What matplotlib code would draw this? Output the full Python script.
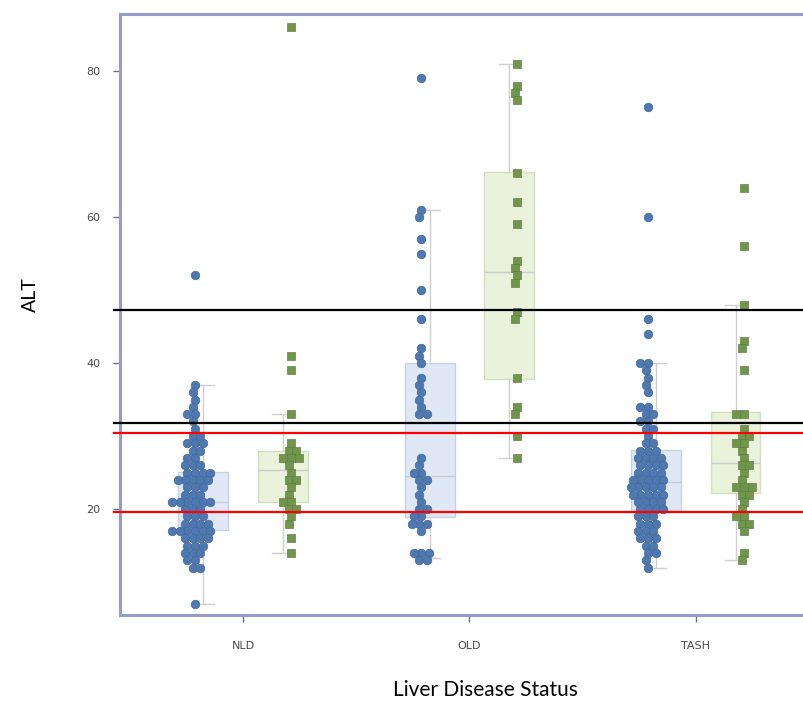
import numpy as np
import matplotlib
matplotlib.use("Agg")
import matplotlib.pyplot as plt

# ---------------- data ----------------
categories = ["NLD", "OLD", "TASH"]
ytick_values = [20, 40, 60, 80]

# group A (blue circles) values per category
blue_nld = ([52, 37, 36, 35, 34] + [33] * 2 + [32, 31] + [30] * 2 + [29] * 3 + [28] * 2 + [27] * 2
            + [26] * 3 + [25] * 4 + [24] * 5 + [23] * 3 + [22] * 3 + [21] * 6 + [20] * 3 + [19] * 3
            + [18] * 4 + [17] * 6 + [16] * 4 + [15] * 3 + [14] * 3 + [13] * 2 + [12] * 2 + [7])
blue_old = [79, 61, 60, 57, 55, 50, 46, 42, 41, 40, 38, 37, 36, 35, 34, 33, 33,
            27, 26, 25, 25, 24, 24, 23, 22, 21, 20, 20, 19, 19, 18, 18, 18, 17,
            14, 14, 14, 13, 13]
blue_tash = ([75, 60, 46, 44] + [40] * 2 + [39, 38, 37, 36] + [34] * 2 + [33] * 2 + [32] * 2
             + [31] * 2 + [30] + [29] * 2 + [28] * 3 + [27] * 4 + [26] * 4 + [25] * 4 + [24] * 5
             + [23] * 5 + [22] * 5 + [21] * 4 + [20] * 4 + [19] * 3 + [18] * 3 + [17] * 3
             + [16] * 3 + [15] * 2 + [14] * 2 + [13, 12])

# group B (green squares) values per category
green_nld = [86, 41, 39, 33, 29, 28, 28, 27, 27, 27, 26, 25, 24, 24, 23, 22, 21, 21,
             20, 20, 19, 18, 16, 14]
green_old = [81, 78, 77, 76, 66, 62, 59, 54, 53, 52, 51, 47, 46, 38, 34, 33, 30, 27]
green_tash = [64, 56, 48, 43, 42, 39, 33, 33, 31, 30, 30, 29, 29, 28, 27, 26, 26, 25,
              24, 23, 23, 23, 22, 22, 21, 20, 19, 19, 18, 18, 17, 14, 13]

# box statistics (NLD, OLD, TASH)
blue_q1 = [17.1, 18.9, 19.9]
blue_med = [21.0, 24.5, 23.7]
blue_q3 = [25.1, 40.0, 28.1]
blue_lo = [7.0, 13.3, 12.0]
blue_hi = [37.0, 61.0, 40.0]

green_q1 = [21.0, 37.8, 22.2]
green_med = [25.3, 52.5, 26.3]
green_q3 = [28.0, 66.2, 33.3]
green_lo = [14.0, 27.0, 13.0]
green_hi = [33.0, 81.0, 48.0]

# reference lines
black_lines = [47.2, 31.8]
red_lines = [30.45, 19.55]

# ---------------- figure ----------------
fig = plt.figure(figsize=(8.04, 7.11), dpi=100)
ax = fig.add_axes([120 / 804, 1 - 615 / 711, (830 - 120) / 804, (615 - 14) / 711])
ax.set_xlim(-0.543, 2.592)
ax.set_ylim(5.5, 87.8)

frame_col = "#959bcb"
for side in ["left", "top", "bottom", "right"]:
    ax.spines[side].set_color(frame_col)
    ax.spines[side].set_linewidth(2.2)

# ---- boxes ----
box_off = 0.175
box_w = 0.22


def make_stats(q1, med, q3, lo, hi):
    return [dict(q1=a, med=b, q3=c, whislo=d, whishi=e, fliers=[]) for a, b, c, d, e in zip(q1, med, q3, lo, hi)]


pos = np.arange(len(categories))
for stats, shift, fc, ec in [
    (make_stats(blue_q1, blue_med, blue_q3, blue_lo, blue_hi), -box_off, "#dfe8f4", "#c4d2e6"),
    (make_stats(green_q1, green_med, green_q3, green_lo, green_hi), box_off, "#eaf2dc", "#d2e1bb"),
]:
    ax.bxp(stats, positions=pos + shift, widths=box_w, patch_artist=True, showfliers=False,
           manage_ticks=False, capwidths=0.09,
           boxprops=dict(facecolor=fc, edgecolor=ec, linewidth=1.0),
           medianprops=dict(color="#c9ccd2", linewidth=1.0),
           whiskerprops=dict(color="#cfcfcf", linewidth=1.0),
           capprops=dict(color="#cfcfcf", linewidth=1.0), zorder=1)

# ---- swarm points ----
pt_off = 0.212


def swarm_x(vals, center, d):
    vals = np.asarray(vals, dtype=float)
    pts = ax.transData.transform(np.column_stack([np.full(len(vals), center), vals]))
    cx = pts[0, 0]
    ys = pts[:, 1]
    order = np.argsort(-ys, kind="stable")
    placed = []
    xs = np.zeros(len(vals))
    for i in order:
        y = ys[i]
        near = [(px, py) for px, py in placed if abs(y - py) < d]
        cands = [0.0]
        for px, py in near:
            dx = np.sqrt(max(d * d - (y - py) ** 2, 0.0))
            cands += [px + dx, px - dx]
        cands.sort(key=lambda c: (abs(c), c))
        chosen = cands[-1]
        for c in cands:
            if all((c - px) ** 2 + (y - py) ** 2 >= d * d - 1e-6 for px, py in near):
                chosen = c
                break
        placed.append((chosen, y))
        xs[i] = chosen
    back = ax.transData.inverted().transform(np.column_stack([cx + xs, ys]))
    return back[:, 0]


for i, vals in enumerate([blue_nld, blue_old, blue_tash]):
    xs = swarm_x(vals, i - pt_off, 7.6)
    ax.scatter(xs, vals, s=38, marker="o", facecolor="#4e78b2", edgecolor="#456896",
               linewidth=0.5, zorder=3)
for i, vals in enumerate([green_nld, green_old, green_tash]):
    xs = swarm_x(vals, i + pt_off, 7.6)
    ax.scatter(xs, vals, s=32, marker="s", facecolor="#6f964b", edgecolor="#627f47",
               linewidth=0.5, zorder=3)

# ---- reference lines ----
for v in black_lines:
    ax.axhline(v, xmin=-0.008, xmax=1, color="black", linewidth=1.6, clip_on=False, zorder=5)
for v in red_lines:
    ax.axhline(v, xmin=-0.008, xmax=1, color="#ff0000", linewidth=1.6, clip_on=False, zorder=5)

# ---- ticks ----
ax.set_xticks(pos)
ax.set_xticklabels(categories)
ax.set_yticks(ytick_values)
ax.set_yticklabels([str(v) for v in ytick_values])
ax.tick_params(axis="both", colors="#6b6f8a", labelcolor="#4a4a4a", labelsize=8,
               length=5, width=1, direction="out")
ax.tick_params(axis="x", pad=14)
ax.tick_params(axis="y", pad=9)

# ---- axis titles ----
fig.text(30 / 804, 1 - 295 / 711, "ALT", rotation=90, ha="center", va="center",
         fontsize=14, family="Lato", color="black")
fig.text(485 / 804, 1 - 690 / 711, "Liver Disease Status", ha="center", va="center",
         fontsize=15, family="Lato", color="black")

fig.savefig("out.png", dpi=100)
